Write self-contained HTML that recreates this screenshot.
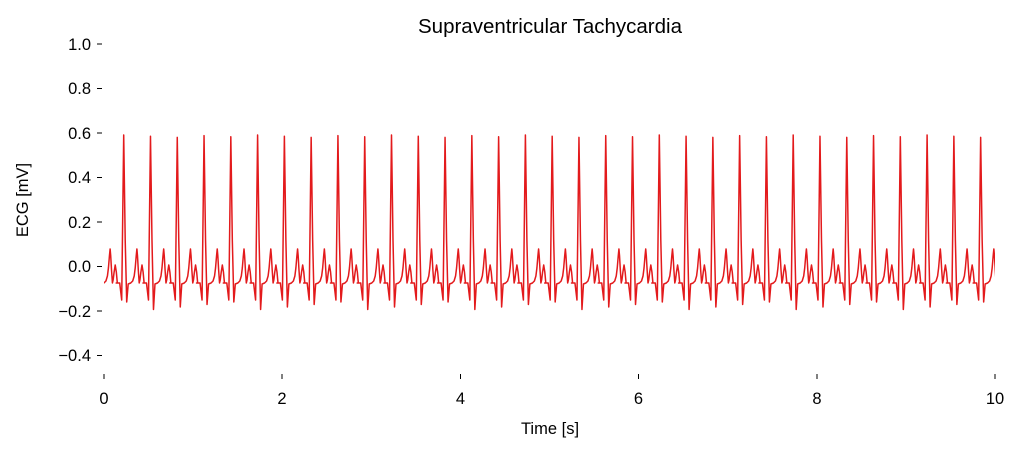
<!DOCTYPE html>
<html><head><meta charset="utf-8"><style>
html,body{margin:0;padding:0;background:#fff;}
svg text{font-family:"Liberation Sans","DejaVu Sans",sans-serif;fill:#000;}
</style></head><body>
<svg id="s" width="1023" height="453" viewBox="0 0 1023 453" xmlns="http://www.w3.org/2000/svg">
<defs><clipPath id="c"><rect x="104" y="30" width="891" height="350"/></clipPath></defs>
<text x="550" y="33" font-size="20.5" text-anchor="middle">Supraventricular Tachycardia</text>
<g font-size="16.5" text-anchor="end">
<text x="91" y="50">1.0</text><text x="91" y="94">0.8</text><text x="91" y="139">0.6</text>
<text x="91" y="183">0.4</text><text x="91" y="228">0.2</text><text x="91" y="272">0.0</text>
<text x="91" y="317">−0.2</text><text x="91" y="361">−0.4</text>
</g>
<g stroke="#000" stroke-width="1">
<line x1="97" x2="102" y1="44" y2="44"/><line x1="97" x2="102" y1="88.5" y2="88.5"/>
<line x1="97" x2="102" y1="133" y2="133"/><line x1="97" x2="102" y1="177.5" y2="177.5"/>
<line x1="97" x2="102" y1="222" y2="222"/><line x1="97" x2="102" y1="266.5" y2="266.5"/>
<line x1="97" x2="102" y1="311" y2="311"/><line x1="97" x2="102" y1="355.5" y2="355.5"/>
<line x1="104" x2="104" y1="374" y2="379"/><line x1="282" x2="282" y1="374" y2="379"/>
<line x1="460.5" x2="460.5" y1="374" y2="379"/><line x1="638.5" x2="638.5" y1="374" y2="379"/>
<line x1="817" x2="817" y1="374" y2="379"/><line x1="995" x2="995" y1="374" y2="379"/>
</g>
<g font-size="16.5" text-anchor="middle">
<text x="104" y="404">0</text><text x="282" y="404">2</text><text x="460.5" y="404">4</text>
<text x="638.5" y="404">6</text><text x="817" y="404">8</text><text x="995" y="404">10</text>
</g>
<text x="550" y="434" font-size="16.5" text-anchor="middle">Time [s]</text>
<text transform="translate(28,200) rotate(-90)" font-size="16.5" text-anchor="middle">ECG [mV]</text>
<path id="ecg" clip-path="url(#c)" fill="none" stroke="#e31a1c" stroke-width="1.5" stroke-linejoin="round" d=""/>
</svg>
<script>
var t=[[-7.5,283],[-4,283],[-2,300],[0,135],[1.5,240],[3,308],[4.5,284],[7,283],[9,281],[10.5,276],[11.5,268],[12.5,256],[13.2,249],[13.8,256],[14.6,270],[15.5,283],[16.2,280],[17.2,272],[18.3,265],[19.4,272],[20.4,283],[22.75,283]];
var P=26.78,R0=123.7,d="";
for(var k=-1;k<=33;k++){var r=R0+k*P;for(var i=0;i<t.length;i++){var x=r+t[i][0],y=t[i][1];
if(t[i][0]==0)y=135+((k*7)%5)*0.6;if(t[i][0]==3)y=302+((k*3)%4)*2.5;
d+=(d?"L":"M")+x.toFixed(2)+","+y.toFixed(1);}}
document.getElementById("ecg").setAttribute("d",d);
</script>
</body></html>
